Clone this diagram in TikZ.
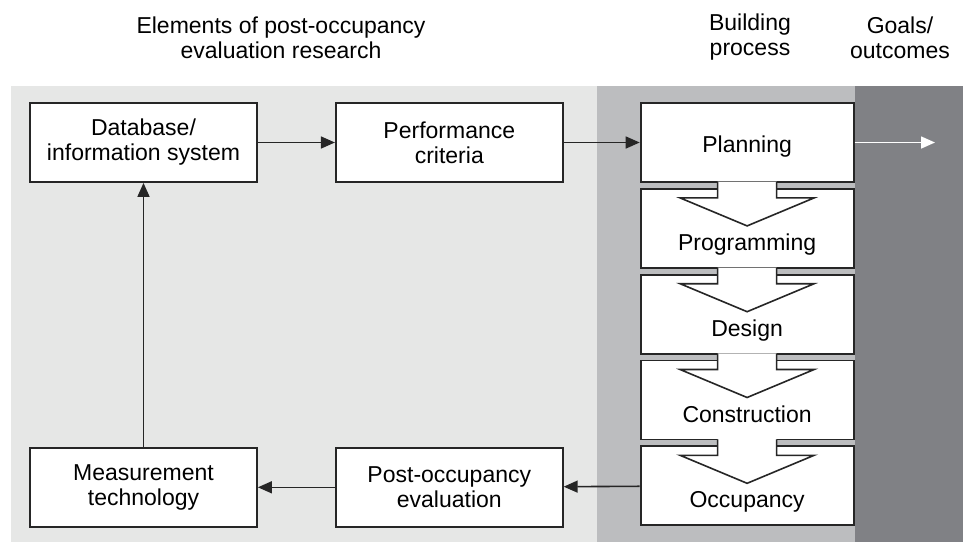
\documentclass[tikz,border=0pt]{standalone}
\usepackage{fontspec}
\setmainfont{Liberation Sans}
\usetikzlibrary{positioning,calc,arrows.meta}

\definecolor{evalgrey}{HTML}{E6E7E6}
\definecolor{buildgrey}{HTML}{BCBDBF}
\definecolor{goalgrey}{HTML}{808185}
\definecolor{inkgrey}{HTML}{262626}

\tikzset{
  elem/.style={draw=inkgrey, fill=white, line width=1.8pt, minimum width=227pt, minimum height=79pt, align=center},
  stage/.style={draw=inkgrey, fill=white, line width=1.8pt, minimum width=213pt, minimum height=79pt},
  stagetext/.style={anchor=base},
  head/.style={align=center},
  flow/.style={draw=inkgrey, line width=1.6pt, -{Triangle[length=14pt,width=12pt]}},
}

% chevron from one stage box into the next
\newcommand{\stagearrow}[2]{%
  \fill[white] ($(#1.south)+(-29.5,1.2)$) -- ($(#2.north)+(-29.5,-10)$) -- ($(#2.north)+(-67,-10)$)
    -- ($(#2.north)+(0,-38)$) -- ($(#2.north)+(67,-10)$) -- ($(#2.north)+(29.5,-10)$)
    -- ($(#1.south)+(29.5,1.2)$) -- cycle;
  \draw[inkgrey, line width=1.6pt] ($(#1.south)+(-29.5,0.9)$) -- ($(#2.north)+(-29.5,-10)$)
    -- ($(#2.north)+(-67,-10)$) -- ($(#2.north)+(0,-38)$) -- ($(#2.north)+(67,-10)$)
    -- ($(#2.north)+(29.5,-10)$) -- ($(#1.south)+(29.5,0.9)$);
}

\begin{document}
\begin{tikzpicture}[x=1pt, y=1pt, font=\fontsize{23}{25}\selectfont]

\useasboundingbox (0,0) rectangle (963,-542);

  % Panels
\fill[evalgrey]  (11,-86) rectangle (597,-542);
\fill[buildgrey] (597,-86) rectangle (855,-542);
\fill[goalgrey]  (855,-86) rectangle (963,-542);

\node[head] (hEval)  at (281,-37.5) {Elements of post-occupancy\\evaluation research};
\node[head] (hBuild) at (750,-37.5) {Building\\process};
\node[head] (hGoal)  at (900,-37.5) {Goals/\\outcomes};

  % Define nodes
\node[elem] (db) at (143.5,-142.5) {Database/\\information system};
\node[elem, right=77pt of db]   (perf) {Performance\\criteria};
\node[elem, below=264pt of db]  (meas) {Measurement\\technology};
\node[elem, right=77pt of meas] (poe)  {Post-occupancy\\evaluation};

\node[stage, right=76pt of perf]  (plan)   {};
\node[stage, below=5pt of plan]   (prog)   {};
\node[stage, below=5pt of prog]   (design) {};
\node[stage, below=5pt of design] (constr) {};
\node[stage, below=5pt of constr] (occ)    {};

\stagearrow{plan}{prog}
\stagearrow{prog}{design}
\stagearrow{design}{constr}
\stagearrow{constr}{occ}

\node[stagetext] (planT)   at ([yshift=-50pt]plan.north)   {Planning};
\node[stagetext] (progT)   at ([yshift=-63pt]prog.north)   {Programming};
\node[stagetext] (designT) at ([yshift=-63pt]design.north) {Design};
\node[stagetext] (constrT) at ([yshift=-63pt]constr.north) {Construction};
\node[stagetext] (occT)    at ([yshift=-62pt]occ.north)    {Occupancy};

\coordinate (goal) at (935,-142.5);

  % Connect the nodes
\draw[flow] (db) -- (perf);
\draw[flow] (perf) -- (plan);
\draw[flow, draw=white] (plan) -- (goal);
\draw[flow] (occ) -- (poe);
\draw[flow] (poe) -- (meas);
\draw[flow] (meas) -- (db);

\end{tikzpicture}
\end{document}
